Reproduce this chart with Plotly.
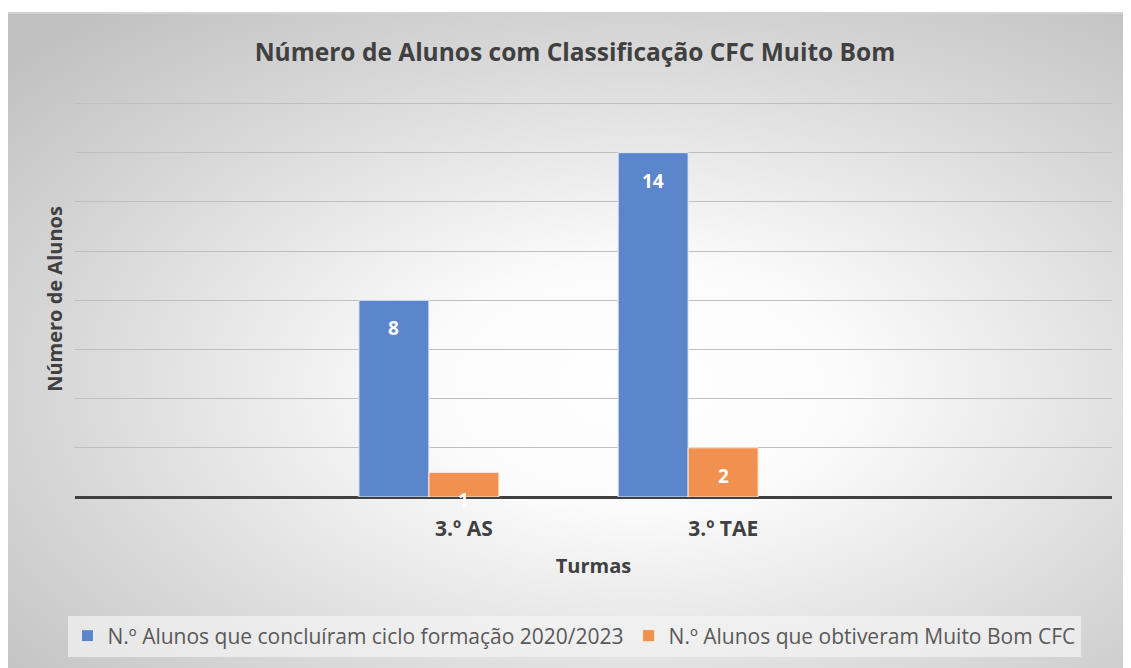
import base64
import plotly.graph_objects as go

categories = ["3.º AS", "3.º TAE"]
series_names = ["N.º Alunos que concluíram ciclo formação 2020/2023",
                "N.º Alunos que obtiveram Muito Bom CFC"]
concluiram = [8, 14]
muito_bom = [1, 2]
empty_series = [None, None]  # third (empty) series slot in the source chart

# page has an 8px body margin; work in figure coordinates
W, H = 1123, 660
L, T = 67, 93
pw, ph = 1037, 396
R, B = W - L - pw, H - T - ph

svg = (
    '<svg xmlns="http://www.w3.org/2000/svg" width="1123" height="656" viewBox="0 0 1123 656" preserveAspectRatio="none">'
    '<defs><radialGradient id="g" cx="0.56" cy="0.57" r="0.75" gradientUnits="objectBoundingBox">'
    '<stop offset="0" stop-color="#ffffff"/><stop offset="0.25" stop-color="#fbfbfb"/>'
    '<stop offset="0.67" stop-color="#d9d9d9"/><stop offset="1" stop-color="#c0c0c0"/></radialGradient></defs>'
    '<rect x="0" y="0" width="1123" height="656" fill="url(#g)"/>'
    '<line x1="0" y1="1" x2="1123" y2="1" stroke="#d2d2d2" stroke-width="2"/></svg>'
)
src = "data:image/svg+xml;base64," + base64.b64encode(svg.encode()).decode()


def px_to_paper_x(px):
    return (px - L) / pw


def py_to_paper_y(py):
    return (H - B - py) / ph


label_font = dict(color="#ffffff", size=19, family="Open Sans", weight="bold")

fig = go.Figure()
fig.add_trace(go.Bar(
    x=categories, y=concluiram, name=series_names[0],
    marker=dict(color="#5b86cc", line=dict(color="#e8eef8", width=1)),
))
fig.add_trace(go.Bar(
    x=categories, y=muito_bom, name=series_names[1],
    marker=dict(color="#f0914f", line=dict(color="#fbe9dc", width=1)),
))
fig.add_trace(go.Bar(
    x=categories, y=empty_series, name="", showlegend=False, hoverinfo="skip",
))

# data labels inside the bar tops (group of 3 slots, each ~0.27 category wide)
slot = (1 - 0.19) / 3
annotations = []
for si, values in enumerate([concluiram, muito_bom]):
    for ci, v in enumerate(values):
        annotations.append(dict(
            x=ci + (si - 1) * slot, y=v, xref="x", yref="y",
            text=str(v), showarrow=False, yanchor="middle", yshift=-28,
            font=label_font,
        ))

fig.update_layout(
    width=W, height=H,
    margin=dict(l=L, r=R, t=T, b=B),
    paper_bgcolor="#ffffff", plot_bgcolor="rgba(0,0,0,0)",
    barmode="group", bargap=0.19, bargroupgap=0,
    title=dict(text="<b>Número de Alunos com Classificação CFC Muito Bom</b>",
               x=567 / W, xanchor="center", y=1 - 44 / H, yanchor="middle",
               font=dict(family="Open Sans", size=24.5, color="#404040")),
    xaxis=dict(range=[-1.5, 2.5], showgrid=False, ticks="", showline=False,
               ticklabelstandoff=17,
               tickfont=dict(family="Open Sans", size=21, color="#404040", weight="bold"),
               title=dict(text="<b>Turmas</b>", standoff=17,
                          font=dict(family="Open Sans", size=20, color="#404040"))),
    yaxis=dict(range=[0, 16.1], dtick=2, showticklabels=False, ticks="",
               showgrid=True, gridcolor="#bfbfbf", gridwidth=1,
               zeroline=True, zerolinecolor="#404040", zerolinewidth=3,
               title=dict(text="<b>Número de Alunos</b>", standoff=6,
                          font=dict(family="Open Sans", size=20, color="#404040"))),
    legend=dict(orientation="h", x=px_to_paper_x(566), xanchor="center",
                y=py_to_paper_y(628), yanchor="middle",
                bgcolor="rgba(244,244,244,0.7)",
                font=dict(family="Open Sans", size=21, color="#595959"),
                itemwidth=30, traceorder="normal"),
    showlegend=True,
    annotations=annotations,
    images=[dict(source=src, xref="paper", yref="paper",
                 x=px_to_paper_x(0), y=py_to_paper_y(4),
                 sizex=W / pw, sizey=(H - 4) / ph,
                 xanchor="left", yanchor="top", sizing="stretch", layer="below")],
)

fig.write_html("out.html")
